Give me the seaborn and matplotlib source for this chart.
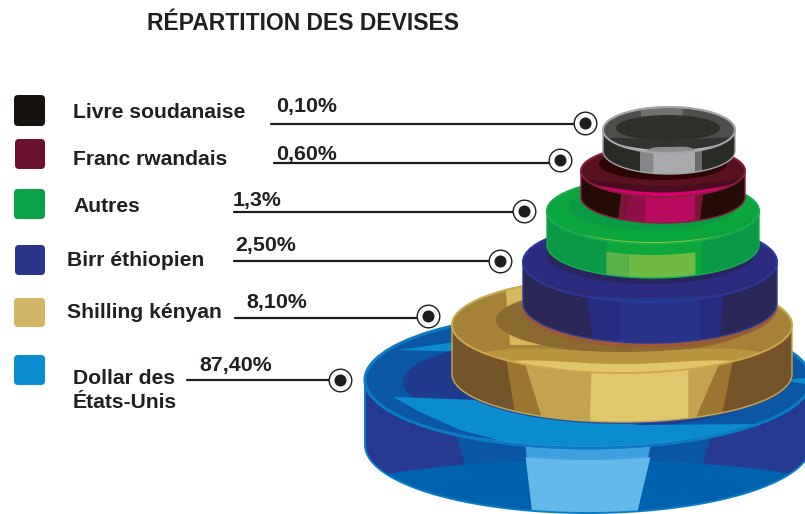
import numpy as np
import pandas as pd
import matplotlib
matplotlib.use("Agg")
import matplotlib.pyplot as plt
from matplotlib.patches import FancyBboxPatch, Polygon, Ellipse
import seaborn as sns

# ---- data ----
title = "RÉPARTITION DES DEVISES"
currencies = ["Livre soudanaise", "Franc rwandais", "Autres", "Birr éthiopien", "Shilling kényan", "Dollar des\nÉtats-Unis"]
shares = [0.10, 0.60, 1.3, 2.50, 8.10, 87.40]
share_labels = ["0,10%", "0,60%", "1,3%", "2,50%", "8,10%", "87,40%"]
colors = ["#16130e", "#6b1230", "#09a346", "#2a3588", "#d3b56a", "#0b8ecf"]

# ---- layout (pixels of the infographic) ----
swatch_box = [(14, 95, 31, 31), (15, 139, 30, 30), (14, 189, 31, 30), (15, 245, 30, 30), (14, 298, 31, 29), (14, 355, 31, 30)]
label_pos = [(73, 118), (73, 165), (73, 212), (67, 266), (67, 318), (73, 408)]
value_pos = [(276, 112), (276, 160), (233, 206), (235, 251), (246, 308), (199, 371)]
leader_x0 = [271, 274, 234, 234, 235, 187]
leader_y = [124, 163, 212, 261, 318, 380]
anchor_x = [585, 560, 524, 500, 428, 340]
anchor_y = [123, 160, 211, 261, 316, 380]

INK = "#231f20"
sns.set_theme(style="white")
plt.rcParams["font.family"] = ["Liberation Sans", "DejaVu Sans"]
plt.rcParams["font.weight"] = "bold"

fig = plt.figure(figsize=(8.05, 5.14), dpi=100, facecolor="white")
ax = fig.add_axes([0, 0, 1, 1])
ax.set_xlim(0, 805)
ax.set_ylim(514, 0)
ax.axis("off")


def add_clipped(patch, clip):
    ax.add_patch(patch)
    patch.set_clip_path(clip)
    return patch


def draw_disk(d):
    cx, cy, rx, ry, h = d["cx"], d["cy"], d["rx"], d["ry"], d["h"]
    ts = np.linspace(np.pi, 2 * np.pi, 90)
    back = np.c_[cx + rx * np.cos(ts), cy + ry * np.sin(ts)]
    tf = np.linspace(0, np.pi, 90)
    front = np.c_[cx + rx * np.cos(tf), cy + h + ry * np.sin(tf)]
    if "under" in d:
        ax.add_patch(Polygon(np.c_[front[:, 0], front[:, 1] + d.get("under_dy", 4)], closed=True,
                             fc=d["under"], ec="none", zorder=d["z"]))
    body = Polygon(np.r_[back, front], closed=True, fc=d["base"], ec="none", zorder=d["z"])
    ax.add_patch(body)

    def band(u0t, u1t, u0b, u1b, col, yoff=0):
        ut = np.linspace(u0t, u1t, 40)
        ub = np.linspace(u1b, u0b, 40)
        pts = np.r_[np.c_[cx + rx * ut, cy + yoff + ry * np.sqrt(1 - ut ** 2)],
                    np.c_[cx + rx * ub, cy + h + 2 + ry * np.sqrt(1 - ub ** 2)]]
        add_clipped(Polygon(pts, closed=True, fc=col, ec="none", zorder=d["z"]), body)

    for b in d.get("bands", []):
        if b[0] == "floor":
            _, col, ex, ey, erx, ery = b
            add_clipped(Ellipse((ex, ey), 2 * erx, 2 * ery, fc=col, ec="none", zorder=d["z"]), body)
        else:
            band(*b)

    top = Ellipse((cx, cy), 2 * rx, 2 * ry, fc=d["top"], ec="none", zorder=d["z"])
    ax.add_patch(top)
    for pts, col in d.get("top_polys", []):
        add_clipped(Polygon(pts, closed=True, fc=col, ec="none", zorder=d["z"]), top)
    if "inner" in d:
        ex, ey, erx, ery, col = d["inner"]
        add_clipped(Ellipse((ex, ey), 2 * erx, 2 * ery, fc=col, ec="none", zorder=d["z"]), top)
    for pts, col in d.get("top_polys2", []):
        add_clipped(Polygon(pts, closed=True, fc=col, ec="none", zorder=d["z"]), top)
    for u0, u1, t, col in d.get("lips", []):
        u = np.linspace(u0, u1, 60)
        s = np.sqrt(1 - u ** 2)
        mid, half = (u0 + u1) / 2, (u1 - u0) / 2
        taper = np.clip(1 - ((u - mid) / half) ** 4, 0, 1)
        pts = np.r_[np.c_[cx + rx * u, cy + ry * s],
                    np.c_[cx + rx * u[::-1], (cy + ry * s - t * taper)[::-1]]]
        add_clipped(Polygon(pts, closed=True, fc=col, ec="none", zorder=d["z"]), top)
    ax.add_patch(Ellipse((cx, cy), 2 * rx, 2 * ry, fc="none", ec=d["rim"], lw=d.get("rim_lw", 1.4), zorder=d["z"]))
    edge = Polygon(np.r_[back, front], closed=True, fc="none", ec=d["rim"], lw=d.get("edge_lw", 1.0), zorder=d["z"])
    ax.add_patch(edge)


disks = [
    dict(z=6, cx=669, cy=130, rx=66, ry=23, h=21, base="#2a2a26", top="#4e4e4c", rim="#a2a6a7", rim_lw=1.5,
         bands=[(-.44, -.24, -.44, -.24, "#87878a"), (-.24, .40, -.24, .40, "#a9aaac"), (.40, .50, .40, .50, "#6a6a68")],
         top_polys=[([(641, 105), (683, 105), (683, 132), (641, 132)], "#70706e")],
         inner=(668, 128, 52, 13, "#2f2f2c"),
         lips=[(-.95, .95, 12, "#333331"), (-.8, .8, 2.5, "#c4c4c4"), (-.36, .42, 6, "#8c8c8c")]),
    dict(z=5, cx=663, cy=171, rx=82, ry=26, h=26, base="#240b05", top="#58121f", rim="#8a1c40",
         bands=[(-.51, -.43, -.55, -.47, "#7a1538"), (-.43, -.22, -.47, -.22, "#8f1049"), (-.22, .39, -.22, .39, "#b80a5e"), (.39, .49, .39, .45, "#7a1538")],
         inner=(663, 164, 64, 16, "#2d0505"),
         lips=[(-.97, .97, 11, "#4a0d20"), (-.88, .88, 4.5, "#d80070")]),
    dict(z=4, cx=653, cy=211, rx=106, ry=33, h=34, base="#0a9a46", top="#0ba53d", rim="#19ae4b", under="#0c7a50", under_dy=0,
         bands=[(-.44, .46, -.44, .46, "#0aa83c"), (-.44, -.23, -.44, -.23, "#5cb14a", 11), (-.23, .40, -.23, .40, "#70ba44", 11)],
         inner=(653, 206, 84, 24, "#0a9c42"),
         lips=[(-.78, .74, 2, "#8cc63f")]),
    dict(z=3, cx=650, cy=262, rx=127, ry=40, h=41, base="#2b2756", top="#2b2c80", rim="#2b3a9a", under="#9a5a35", under_dy=5,
         bands=[(-.50, .58, -.45, .55, "#262c80"), (-.24, .39, -.24, .39, "#28348a")],
         inner=(650, 254, 104, 30, "#292560"),
         lips=[(-.98, .98, 6, "#2f2a78"), (-.5, .5, 4, "#233b8f")]),
    dict(z=2, cx=622, cy=325, rx=170, ry=48, h=49, base="#745428", top="#a58238", rim="#c9a94f", under="#1f4f9a", under_dy=2,
         bands=[(-.68, .65, -.63, .59, "#9a7632"), (-.57, .57, -.47, .43, "#c2a350"), (-.18, .39, -.19, .39, "#e0c66c")],
         top_polys=[([(505, 280), (530, 280), (540, 345), (510, 345)], "#d6b95c")],
         inner=(627, 320, 131, 33, "#8a6a30"),
         lips=[(-.82, .82, 21, "#b8953f"), (-.66, .66, 9, "#e2c76a")]),
    dict(z=1, cx=588, cy=380, rx=223, ry=68, h=65, base="#253a90", top="#0b57a5", rim="#0a7cc4", rim_lw=2.2, edge_lw=1.4,
         bands=[(-.59, .55, -.50, .46, "#0b55a5"),
                ("floor", "#0062ae", 590, 512, 300, 52),
                (-.28, .28, -.25, .22, "#3ea0de"), (-.28, .28, -.25, .22, "#62b8e8", 12)],
         top_polys=[([(398, 350), (470, 340), (470, 352)], "#0a8ccf"),
                    ([(780, 380), (805, 378), (805, 384)], "#0a8ccf")],
         inner=(590, 382, 187, 47, "#223a8e"),
         top_polys2=[([(393, 397), (480, 400), (520, 412), (640, 425), (762, 424), (720, 440), (650, 452),
                       (587, 452), (520, 446), (460, 430), (420, 412)], "#0a8ccf")],
         lips=[(-.75, .75, 2, "#3f9fdc")]),
]
for disk in disks[::-1]:
    draw_disk(disk)

# ---- legend ----
for box, col, name, lp in zip(swatch_box, colors, currencies, label_pos):
    x, y, w, hh = box
    ax.add_patch(FancyBboxPatch((x + 3, y + 3), w - 6, hh - 6, boxstyle="round,pad=3,rounding_size=4",
                                fc=col, ec="none", zorder=8))
    ax.text(lp[0], lp[1], name, fontsize=15.2, color=INK, ha="left", va="baseline",
            fontweight="bold", linespacing=1.32, zorder=9)

# ---- leaders and values ----
for x0, ly, ax_, ay, txt, vp in zip(leader_x0, leader_y, anchor_x, anchor_y, share_labels, value_pos):
    sns.lineplot(x=[x0, ax_], y=[ly, ly], color="#1d1d1b", lw=1.6, ax=ax, zorder=7, sort=False,
                 estimator=None, errorbar=None, legend=False)
    ax.text(vp[0], vp[1], txt, fontsize=15.4, color=INK, ha="left", va="baseline", fontweight="bold", zorder=9)

marks = pd.DataFrame({"currency": currencies, "share": shares, "x": anchor_x, "y": anchor_y})
sns.scatterplot(data=marks, x="x", y="y", s=265, facecolor="white", edgecolor="#1d1d1b", linewidth=1.0, ax=ax, zorder=10, legend=False)
sns.scatterplot(data=marks, x="x", y="y", s=75, color="#1d1d1b", linewidth=0, ax=ax, zorder=11, legend=False)
ax.set_xlim(0, 805)
ax.set_ylim(514, 0)
ax.set_xlabel("")
ax.set_ylabel("")

ax.text(147, 30, title, fontsize=16.5, color=INK, ha="left", va="baseline", fontweight="bold", zorder=9)

fig.savefig("out.png", dpi=100, facecolor="white")
